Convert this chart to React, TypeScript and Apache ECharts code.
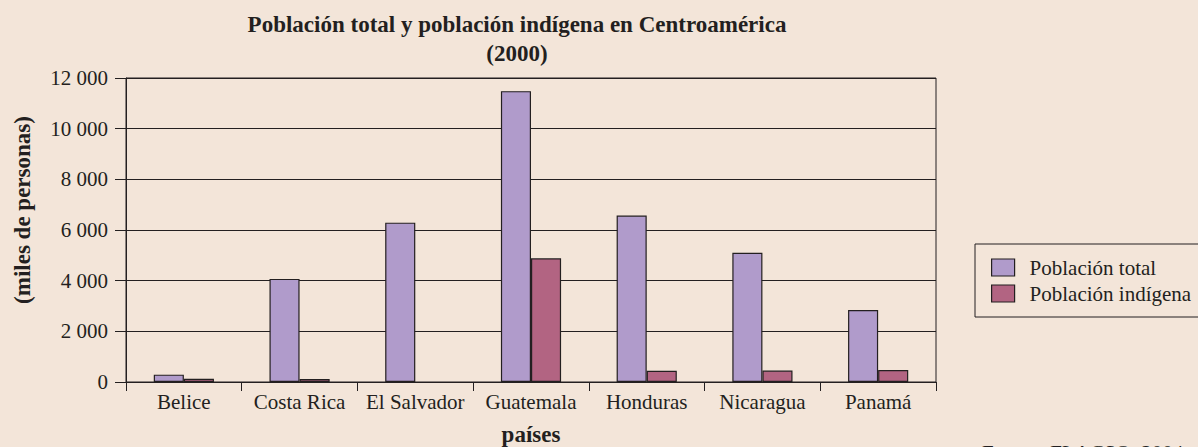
import React, { useEffect, useRef } from "react";
import * as echarts from "echarts";

const categories = ["Belice", "Costa Rica", "El Salvador", "Guatemala", "Honduras", "Nicaragua", "Panamá"];
const poblacionTotal = [290, 4070, 6290, 11480, 6570, 5100, 2840];
const poblacionIndigena: (number | null)[] = [130, 120, null, 4880, 440, 450, 470];
const seriesNames = ["Población total", "Población indígena"];
const yTicks = { min: 0, max: 12000, interval: 2000 };

const FONT = "'Liberation Serif', 'Times New Roman', serif";
const INK = "#231f20";

function fmt(v: number) {
  const s = String(v);
  if (v >= 1000) return s.slice(0, s.length - 3) + " " + s.slice(s.length - 3);
  return s;
}

export default function App() {
  const ref = useRef<HTMLDivElement>(null);
  useEffect(() => {
    if (!ref.current) return;
    const chart = echarts.init(ref.current, undefined, { renderer: "svg" });
    chart.setOption({
      animation: false,
      backgroundColor: "#F3E5D9",
      title: {
        text: "Población total y población indígena en Centroamérica\n(2000)",
        left: 512,
        top: 5,
        textAlign: "center",
        textStyle: { fontFamily: FONT, fontSize: 23, fontWeight: "bold", color: INK, lineHeight: 29 },
      },
      legend: {
        orient: "vertical",
        left: 975,
        top: 244,
        padding: [13, 30, 13, 16],
        borderColor: INK,
        borderWidth: 1,
        itemWidth: 23,
        itemHeight: 17,
        itemGap: 5,
        icon: "rect",
        itemStyle: { borderColor: INK, borderWidth: 1.2 },
        textStyle: { fontFamily: FONT, fontSize: 21, color: INK, lineHeight: 21, padding: [0, 0, 0, 10] },
        data: seriesNames,
      },
      grid: {
        left: 126,
        width: 810,
        top: 78,
        height: 304,
        containLabel: false,
        outerBoundsMode: "none",
        show: true,
        borderColor: INK,
        borderWidth: 1,
        backgroundColor: "transparent",
      },
      xAxis: {
        type: "category",
        data: categories,
        name: "países",
        nameLocation: "middle",
        nameGap: 41,
        nameTextStyle: { fontFamily: FONT, fontSize: 23, fontWeight: "bold", color: INK },
        axisLine: { lineStyle: { color: INK, width: 1 } },
        axisTick: { show: true, length: 9, lineStyle: { color: INK } },
        axisLabel: { fontFamily: FONT, fontSize: 21, color: INK, margin: 9, interval: 0 },
      },
      yAxis: {
        type: "value",
        min: yTicks.min,
        max: yTicks.max,
        interval: yTicks.interval,
        axisLine: { show: true, lineStyle: { color: INK, width: 1 } },
        axisTick: { show: true, length: 11, lineStyle: { color: INK } },
        axisLabel: { fontFamily: FONT, fontSize: 21, color: INK, margin: 18, formatter: (v: number) => fmt(v) },
        splitLine: { show: true, lineStyle: { color: INK, width: 1 } },
      },
      graphic: [
        {
          type: "text",
          x: 22,
          y: 210,
          rotation: Math.PI / 2,
          style: {
            text: "(miles de personas)",
            font: `bold 23px ${FONT}`,
            fill: INK,
            align: "center",
            verticalAlign: "middle",
          },
        },
        {
          type: "text",
          x: 982,
          y: 442,
          style: {
            text: "Fuente: FLACSO, 2004",
            font: `21px ${FONT}`,
            fill: INK,
            align: "left",
            verticalAlign: "top",
          },
        },
      ],
      series: [
        {
          name: seriesNames[0],
          type: "bar",
          data: poblacionTotal,
          barGap: "0%",
          barCategoryGap: "48%",
          itemStyle: { color: "#B09BCB", borderColor: INK, borderWidth: 1.2 },
        },
        {
          name: seriesNames[1],
          type: "bar",
          data: poblacionIndigena,
          barGap: "0%",
          barCategoryGap: "48%",
          itemStyle: { color: "#B26482", borderColor: INK, borderWidth: 1.2 },
        },
      ],
    });
    return () => chart.dispose();
  }, []);
  return (
    <div
      ref={ref}
      style={{ position: "fixed", left: 0, top: 0, width: 1198, height: 447 }}
    />
  );
}
